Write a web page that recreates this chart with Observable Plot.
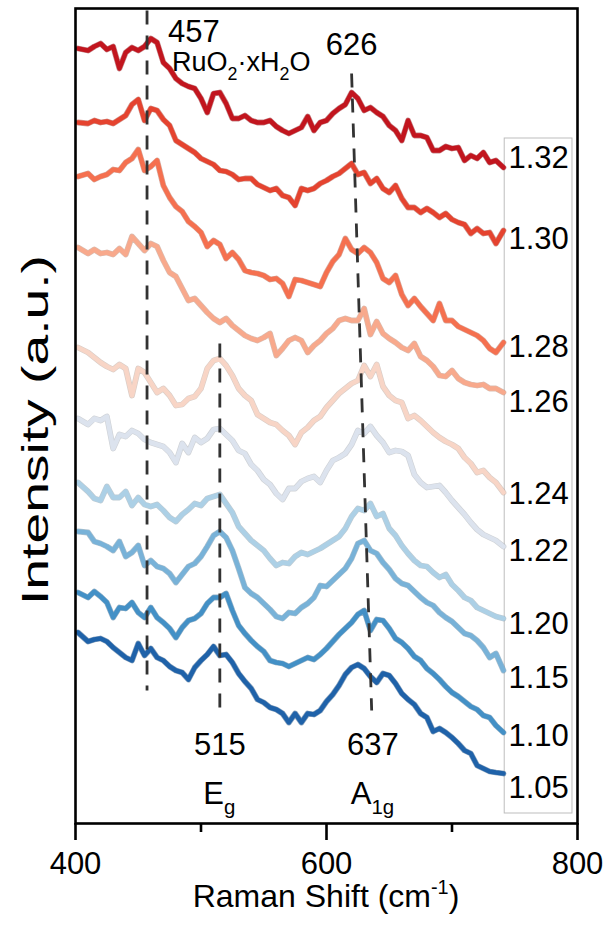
<!DOCTYPE html>
<html>
<head>
<meta charset="utf-8">
<script src="https://cdn.jsdelivr.net/npm/d3@7"></script>
<script src="https://cdn.jsdelivr.net/npm/@observablehq/plot@0.6"></script>
<style>
  html, body { margin: 0; padding: 0; background: #fff; }
  svg { display: block; }
</style>
</head>
<body>
<div id="chart"></div>
<script>
// ---- data (Raman shift in cm^-1, stacked intensity in a.u.) ----
const shift = [402,410,415,420,425,430,435,440,445,450,455,460,465,470,475,480,485,490,495,500,
  505,510,515,520,525,530,535,540,545,550,555,560,565,570,575,580,585,590,595,600,
  605,610,615,620,625,630,635,640,645,650,655,660,665,670,675,680,685,690,695,700,
  705,710,715,720,725,730,735,741];

const potentials = ["1.32","1.30","1.28","1.26","1.24","1.22","1.20","1.15","1.10","1.05"];

const i132 = [775,773,777,780,774,777,755,771,776,773, 777,785,781,761,755,745,740,737,735,725,
  711,730,731,720,705,705,708,703,701,701, 703,697,693,690,693,696,707,693,701,703,
  710,715,719,731,725,713,716,711,707,698, 693,683,703,688,688,686,673,673,677,675,
  676,663,668,665,671,661,663,656];
const i130 = [701,700,703,701,702,700,704,708,719,724, 703,715,713,704,698,683,679,675,671,665,
  662,659,653,652,649,644,645,645,639,636, 633,635,628,626,618,635,633,635,640,643,
  647,650,655,660,649,651,640,645,635,631, 638,625,616,616,611,615,611,606,610,604,
  601,599,590,595,590,591,580,593];
const i128 = [647,650,644,647,649,654,653,661,665,674, 653,657,663,638,626,617,612,602,597,591,
  577,583,579,565,571,564,553,551,550,548, 544,545,540,527,544,543,541,539,537,551,
  562,569,585,574,570,576,571,561,545,541, 548,529,518,525,517,510,503,520,503,503,
  497,494,491,488,483,475,471,481];
const i126 = [576,570,574,570,571,569,575,569,587,580, 573,580,577,563,551,547,535,523,525,518,
  511,505,501,505,498,493,488,485,483,486, 490,468,475,483,486,483,471,478,483,490,
  495,503,505,503,503,515,489,502,490,485, 481,476,473,480,467,463,457,448,447,453,
  445,441,439,438,439,435,435,431];
const i124 = [476,471,466,461,457,454,459,455,428,455, 451,441,431,435,428,418,419,425,427,435,
  455,463,465,458,448,435,428,423,409,405, 401,399,393,388,379,391,396,403,407,416,
  423,430,435,440,443,458,447,459,437,428, 423,421,405,408,403,397,391,386,382,379,
  375,366,360,351,353,346,341,331];
const i122 = [405,399,405,403,407,375,389,387,393,390, 384,381,379,377,371,361,380,371,386,381,
  385,394,395,389,383,373,370,359,353,344, 339,330,324,335,335,342,345,347,341,353,
  363,366,370,379,393,390,397,388,381,371, 373,372,368,349,341,336,337,338,331,323,
  316,309,301,294,289,286,283,277];
const i120 = [341,332,325,323,337,326,326,332,318,326, 319,317,319,313,306,302,309,314,320,318,
  325,327,329,320,311,297,290,283,278,273, 265,258,261,260,267,271,269,272,275,279,
  283,287,295,307,315,313,320,307,310,295, 288,278,270,263,258,257,251,246,249,239,
  233,226,223,216,213,210,207,205];
const i115 = [292,291,282,280,277,273,282,267,271,278, 258,263,257,255,250,241,249,257,260,267,
  277,288,292,286,273,255,236,230,226,220, 214,207,205,211,210,216,220,226,238,237,
  243,249,255,265,280,283,273,270,261,254, 245,240,238,232,226,221,218,211,206,202,
  196,190,188,183,176,166,170,153];
const i110 = [231,226,232,227,221,206,216,215,221,211, 206,216,206,201,195,186,196,203,205,210,
  220,226,226,230,213,198,190,183,177,172, 163,161,160,157,160,163,166,164,169,175,
  182,189,195,201,209,213,193,204,203,195, 185,181,175,167,163,155,150,144,137,131,
  127,122,117,114,108,106,98,91];
const i105 = [191,182,184,185,182,176,171,166,163,180, 168,175,166,163,157,153,151,144,156,163,
  169,177,168,169,161,150,142,135,124,121, 116,114,110,101,110,101,110,109,113,122,
  129,138,149,156,159,155,147,141,150,148, 140,130,124,119,110,106,92,95,91,86,
  80,73,70,58,55,52,51,50];

const seriesValues = [i132,i130,i128,i126,i124,i122,i120,i115,i110,i105];
const seriesColors = ["#c2151e","#e5432f","#f5704f","#f8a98c","#f8d5c6","#dce3ee","#acd0e6","#78b2d8","#4390c6","#1f62a9"];

// intensity at which each legend label sits
const labelIntensity = [665,584,476,421,329,272,199,145,87,35];

// peak guide lines (shift, intensity endpoints)
const guides = [
  {x1: 457, y1: 813, x2: 457, y2: 133},
  {x1: 515, y1: 480, x2: 515, y2: 105},
  {x1: 620, y1: 750, x2: 636, y2: 113}
];
const peakLabelsStart = [{x: 457, y: 791, text: "457"}];
const peakLabelsMid = [
  {x: 620, y: 778, text: "626"},
  {x: 515, y: 78, text: "515"},
  {x: 637, y: 78, text: "637"}
];
const majorTicks = [400, 600, 800];
const minorTicks = [500, 700];
const legendBox = [{x1: 742, x2: 796, y1: 10, y2: 685}];

const FONT = "'Liberation Sans', Arial, Helvetica, sans-serif";

// ---- build ----
const marks = [];
marks.push(Plot.rect(legendBox, {x1: "x1", x2: "x2", y1: "y1", y2: "y2", fill: "none", stroke: "#bdbdbd", strokeWidth: 1}));

seriesValues.forEach((vals, i) => {
  const rows = shift.map((s, j) => ({shift: s, intensity: vals[j]}));
  const c = d3.color(seriesColors[i]).darker(0.9).formatHex();
  marks.push(Plot.line(rows, {x: "shift", y: "intensity", stroke: c, strokeOpacity: 0.5, strokeWidth: 5.8, strokeLinejoin: "round", strokeLinecap: "round"}));
  marks.push(Plot.line(rows, {x: "shift", y: "intensity", stroke: seriesColors[i], strokeWidth: 4.5, strokeLinejoin: "round", strokeLinecap: "round"}));
});

marks.push(Plot.link(guides, {x1: "x1", y1: "y1", x2: "x2", y2: "y2", stroke: "#333", strokeWidth: 2.8, strokeDasharray: "14,11"}));

marks.push(Plot.text(peakLabelsStart, {x: "x", y: "y", text: "text", textAnchor: "start", dx: 21, fontSize: 31, fill: "#000"}));
marks.push(Plot.text(peakLabelsMid, {x: "x", y: "y", text: "text", textAnchor: "middle", fontSize: 31, fill: "#000"}));

marks.push(Plot.text(potentials, {x: () => shift[shift.length - 1], y: (d, i) => labelIntensity[i], text: d => d, textAnchor: "start", dx: 5, fontSize: 31, fill: "#000"}));

marks.push(Plot.frame({stroke: "#000", strokeWidth: 2.6}));
marks.push(Plot.axisX({ticks: majorTicks, tickSize: 17, tickPadding: 11, fontSize: 31, strokeWidth: 2.6, tickFormat: d => String(d), label: null, fill: "#000"}));
marks.push(Plot.axisX({ticks: minorTicks, tickSize: 9, tickFormat: () => "", strokeWidth: 2.6, label: null}));

const chart = Plot.plot({
  width: 609,
  height: 931,
  marginLeft: 75,
  marginRight: 32,
  marginTop: 8,
  marginBottom: 108,
  style: {fontFamily: FONT, color: "#000", background: "#fff"},
  x: {domain: [400, 800], axis: null},
  y: {domain: [0, 815], axis: null},
  marks
});

const svg = d3.select(chart);
const xs = chart.scale("x"), ys = chart.scale("y");

function rich(parts, opts) {
  const t = svg.append("text")
    .attr("font-family", FONT)
    .attr("font-size", opts.size)
    .attr("fill", "#000")
    .attr("text-anchor", opts.anchor || "start");
  if (opts.transform) t.attr("transform", opts.transform);
  else t.attr("x", opts.x).attr("y", opts.y);
  if (opts.length) t.attr("textLength", opts.length).attr("lengthAdjust", "spacingAndGlyphs");
  let shiftNow = 0;
  parts.forEach(([txt, kind]) => {
    const ts = t.append("tspan").text(txt);
    let target = 0;
    if (kind === "sub") { target = opts.size * 0.32; ts.attr("font-size", opts.size * 0.66); }
    if (kind === "sup") { target = -opts.size * 0.42; ts.attr("font-size", opts.size * 0.62); }
    const d = target - shiftNow;
    if (d !== 0) ts.attr("dy", d);
    shiftNow = target;
  });
  return t;
}

rich([["RuO"], ["2","sub"], ["·xH"], ["2","sub"], ["O"]], {x: xs.apply(477.3), y: ys.apply(761) + 9, size: 27});
rich([["E"], ["g","sub"]], {x: xs.apply(515), y: ys.apply(30) + 11, size: 31, anchor: "middle"});
rich([["A"], ["1g","sub"]], {x: xs.apply(637), y: ys.apply(30) + 11, size: 31, anchor: "middle"});
rich([["Raman Shift (cm"], ["-1","sup"], [")"]], {x: 326, y: 907, size: 32, anchor: "middle"});
rich([["Intensity (a.u.)"]], {transform: "translate(48,430) rotate(-90)", size: 36, anchor: "middle", length: 350});

document.getElementById("chart").appendChild(chart);
</script>
</body>
</html>
